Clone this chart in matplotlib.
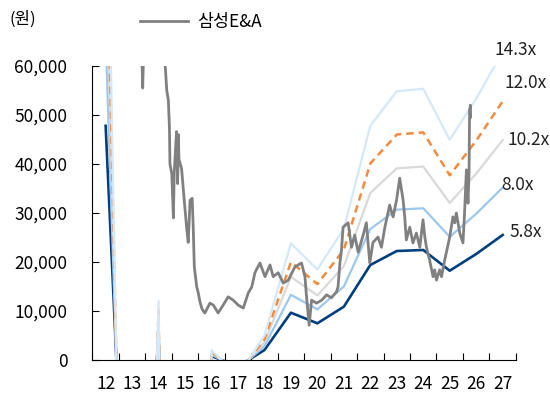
import matplotlib.pyplot as plt
from matplotlib.ticker import FuncFormatter, FixedLocator

plt.rcParams['font.family'] = ['Noto Sans CJK KR', 'DejaVu Sans']

# 연도 (x축: 12 = 2012년)
years = [12, 13, 14, 15, 16, 17, 18, 19, 20, 21, 22, 23, 24, 25, 26, 27]
# 연도별 EPS (원) - 그림에서 읽은 추정값
eps = [8240, -12000, 840, -30000, 140, -230, 350, 1664,
       1291, 1876, 3343, 3835, 3871, 3142, 3730, 4399]

# PER 배수와 선 스타일
multiples = [5.8, 8.0, 10.2, 12.0, 14.3]
band_labels = ['5.8x', '8.0x', '10.2x', '12.0x', '14.3x']
band_colors = ['#003F7F', '#9DC8EE', '#D9D9D9', '#F58A3C', '#D3E9FA']
band_styles = ['-', '-', '-', '--', '-']
band_widths = [1.9, 1.6, 1.6, 1.8, 1.6]
# 오른쪽 라벨 위치 (x, y)
label_x = [27.27, 26.96, 27.19, 27.07, 26.70]
label_y = [26100, 35700, 44900, 56500, 63300]

# 삼성E&A 주가 (원) - 그림에서 읽은 값
price_t = [12.0, 12.5, 13.0, 13.3, 13.37, 13.40, 13.43, 13.6, 14.0, 14.2,
           14.24, 14.31, 14.37, 14.41, 14.43, 14.50, 14.56, 14.59, 14.65, 14.68,
           14.72, 14.75, 14.77, 14.87, 14.97, 15.06, 15.12, 15.19, 15.27, 15.31,
           15.35, 15.44, 15.50, 15.56, 15.63, 15.69, 15.75, 15.94, 16.07, 16.25,
           16.44, 16.63, 16.82, 17.01, 17.20, 17.39, 17.52, 17.64, 17.83, 18.02,
           18.21, 18.33, 18.52, 18.71, 18.90, 19.15, 19.40, 19.53, 19.59, 19.69,
           19.78, 19.97, 20.16, 20.35, 20.53, 20.72, 20.78, 20.85, 20.91, 20.97,
           21.16, 21.29, 21.41, 21.54, 21.73, 21.85, 21.98, 22.10, 22.29, 22.42,
           22.55, 22.73, 22.86, 22.99, 23.11, 23.24, 23.30, 23.36, 23.49, 23.61,
           23.74, 23.87, 23.99, 24.06, 24.12, 24.24, 24.37, 24.43, 24.50, 24.62,
           24.69, 24.81, 25.00, 25.12, 25.19, 25.25, 25.38, 25.50, 25.56, 25.63,
           25.69, 25.73, 25.75, 25.78, 25.79]
price_v = [170000, 150000, 120000, 70000, 62000, 55500, 62000, 68000, 70000, 66000,
           61000, 55000, 53000, 47500, 40000, 38000, 29000, 38000, 44000, 46600,
           36000, 46000, 41000, 39000, 32600, 27000, 24000, 32600, 33000, 27000,
           19000, 15000, 13700, 12000, 10600, 10000, 9600, 11600, 11200, 9600,
           11200, 12900, 12200, 11200, 10600, 13700, 14900, 17800, 19800, 17000,
           19400, 17000, 17800, 15700, 16300, 19000, 19800, 17000, 12900, 7100,
           12200, 11600, 12200, 13300, 12700, 13900, 14900, 19800, 22400, 27100,
           28000, 23000, 25500, 22000, 25500, 28000, 19800, 24000, 25100, 23000,
           27100, 31600, 29200, 32600, 37100, 32600, 29200, 24500, 27100, 23900,
           25900, 23000, 28600, 25100, 23000, 20400, 17000, 18400, 16300, 18400,
           17000, 20400, 25100, 29200, 28000, 30000, 25900, 23900, 30000, 38800,
           32000, 38200, 51000, 52000, 49600]

fig = plt.figure(figsize=(5.5, 4), dpi=100)
ax = fig.add_axes([0.168, 0.1, 0.77, 0.735])

# PER 밴드
for m, lab, c, ls, lw, lx, ly in zip(multiples, band_labels, band_colors,
                                     band_styles, band_widths, label_x, label_y):
    vals = [e * m for e in eps]
    ax.plot(years, vals, color=c, linestyle=ls, linewidth=lw,
            dashes=(3, 2) if ls == '--' else (None, None))
    ax.text(lx, ly, lab, fontsize=12.5, color='#222222', va='center', ha='left',
            clip_on=False)

# 주가
ax.plot(price_t, price_v, color='#808080', linewidth=2.0, label='삼성E&A')

ax.set_xlim(11.5, 27.5)
ax.set_ylim(0, 60000)
ax.xaxis.set_major_locator(FixedLocator([y + 0.5 for y in range(11, 28)]))
ax.set_xticklabels([])
ax.set_xticks(years, minor=True)
ax.set_xticklabels([str(y) for y in years], minor=True)
ax.tick_params(axis='x', which='minor', length=0, labelsize=12.5, pad=11)
ax.tick_params(axis='x', which='major', direction='in', length=5)
ax.set_yticks(range(0, 60001, 10000))
ax.yaxis.set_major_formatter(FuncFormatter(lambda v, p: f'{int(v):,}'))
ax.tick_params(axis='y', direction='in', length=5, labelsize=12.5, pad=18)

for s in ['top', 'right']:
    ax.spines[s].set_visible(False)

ax.text(-0.195, 1.16, '(원)', transform=ax.transAxes, fontsize=12,
        va='center', ha='left')
ax.legend(loc='center left', bbox_to_anchor=(0.075, 1.15), frameon=False,
          fontsize=12.5, handlelength=2.8, handletextpad=0.5)

fig.savefig('out.png', dpi=100)
